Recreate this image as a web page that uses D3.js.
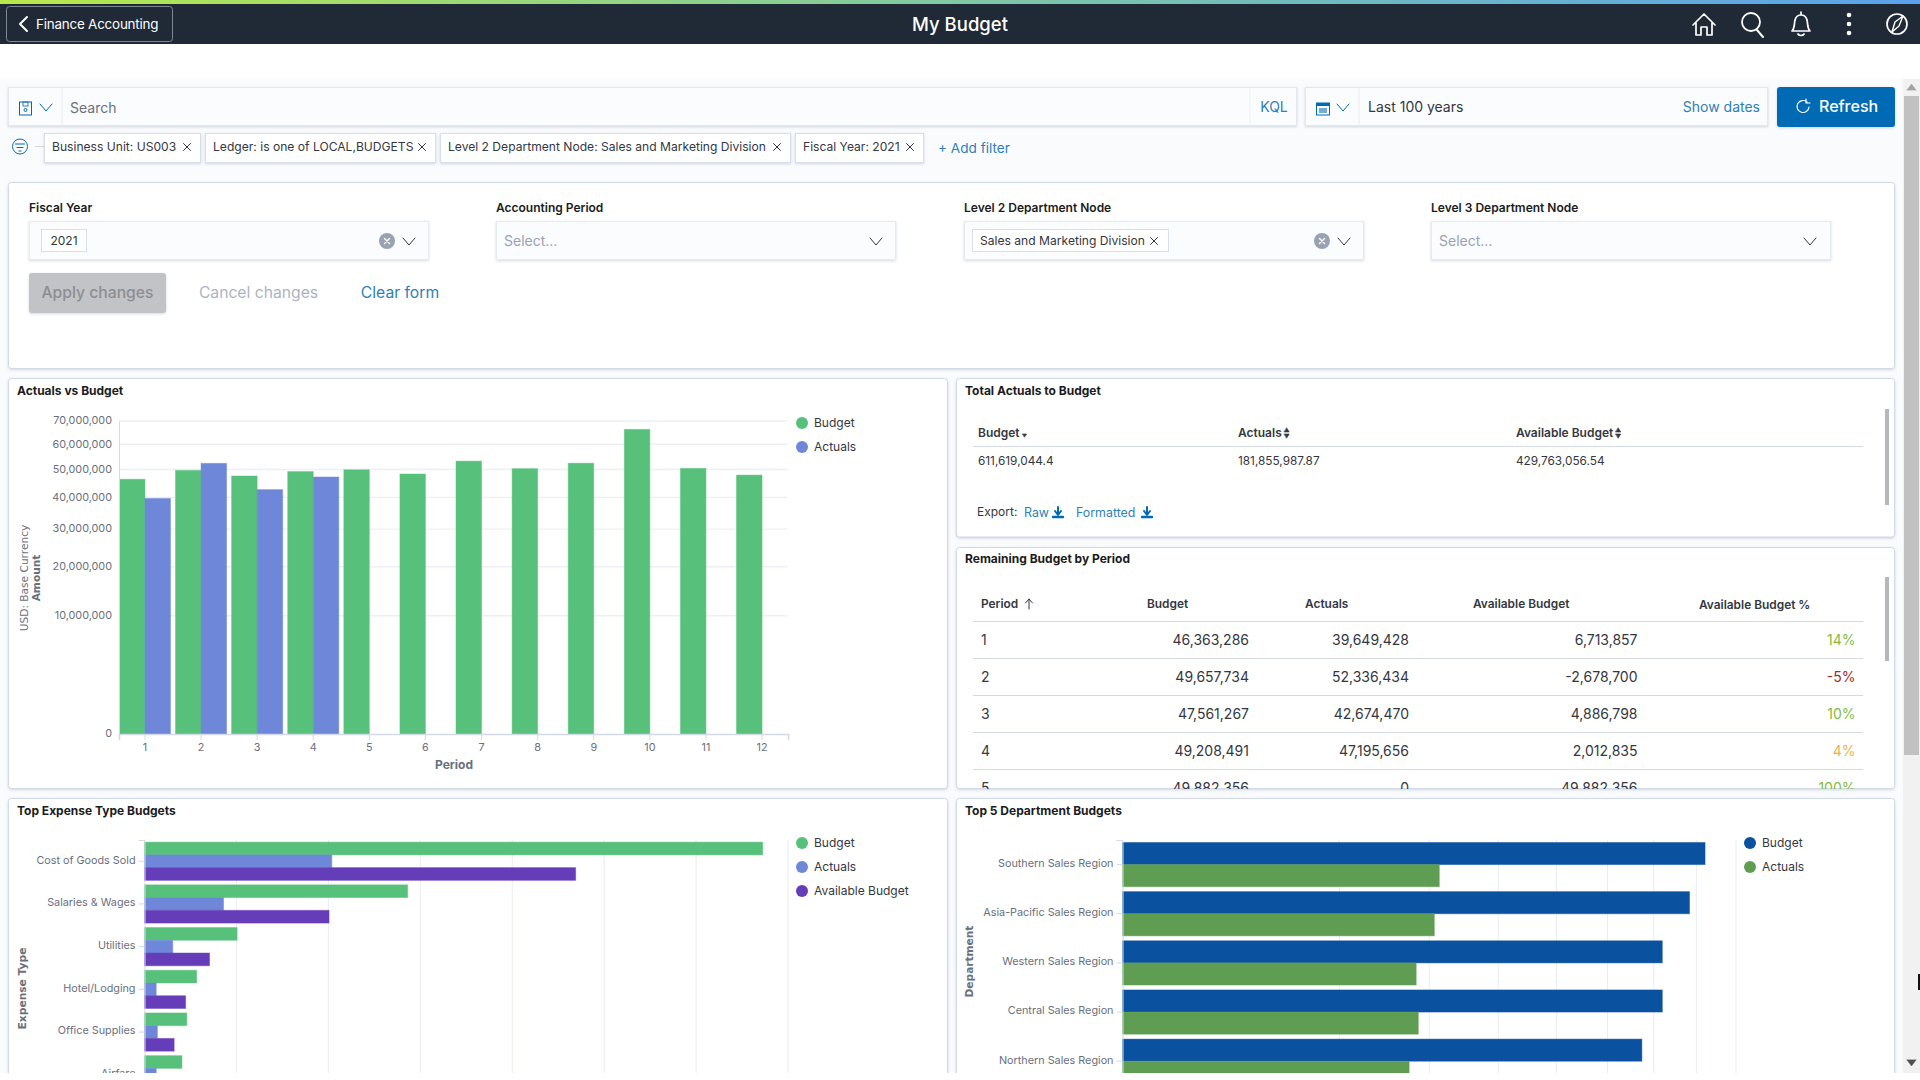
<!DOCTYPE html>
<html><head><meta charset="utf-8">
<script src="https://cdn.jsdelivr.net/npm/d3@7"></script>
<style>
html,body{margin:0;padding:0;background:#fff;overflow:hidden}
svg{display:block;font-family:Inter,"Noto Sans",sans-serif}
text{dominant-baseline:central}
.axis text{font-family:Inter,sans-serif;font-size:10.8px;fill:#69707d}
.axis path,.axis line{stroke:#d3dae6}
</style></head><body><div id="app"></div>
<script>
// ---------- data ----------
const periods = ["1","2","3","4","5","6","7","8","9","10","11","12"];
const budgetByPeriod = [46363286,49657734,47561267,49208491,49882356,48300000,53200000,50300000,52400000,66300000,50400000,47900000];
const actualsByPeriod = [39649428,52336434,42674470,47195656,0,0,0,0,0,0,0,0];
const amountTicks = [0,10000000,20000000,30000000,40000000,50000000,60000000,70000000];

const totalHeaders = ["Budget","Actuals","Available Budget"];
const totalValues = ["611,619,044.4","181,855,987.87","429,763,056.54"];

const remainingHeaders = ["Period","Budget","Actuals","Available Budget","Available Budget %"];
const remainingPeriods = ["1","2","3","4","5"];
const remainingBudget = [46363286,49657734,47561267,49208491,49882356];
const remainingActuals = [39649428,52336434,42674470,47195656,0];
const remainingAvailable = [6713857,-2678700,4886798,2012835,49882356];
const remainingPct = [14,-5,10,4,100];

const expenseTypes = ["Cost of Goods Sold","Salaries & Wages","Utilities","Hotel/Lodging","Office Supplies","Airfare"];
const expenseBudget = [269.0,114.5,40.3,22.7,18.4,16.3];
const expenseActuals = [81.5,34.4,12.3,5.1,5.6,5.1];
const expenseAvailable = [187.6,80.3,28.3,17.9,12.9,11.2];
const expenseTicks = [40,80,120,160,200,240,280];

const departments = ["Southern Sales Region","Asia-Pacific Sales Region","Western Sales Region","Central Sales Region","Northern Sales Region"];
const departmentBudget = [108.2,102.5,92.9,92.9,86.0];
const departmentActuals = [32.0,31.0,27.5,27.9,26.2];
const departmentTicks = [15,30,45,60,75,90,105,120];

const pills = ["Business Unit: US003","Ledger: is one of LOCAL,BUDGETS","Level 2 Department Node: Sales and Marketing Division","Fiscal Year: 2021"];
const formLabels = ["Fiscal Year","Accounting Period","Level 2 Department Node","Level 3 Department Node"];

// ---------- palette ----------
const GREEN="#57c17b",BLUE="#6f87d8",PURPLE="#663db8",NAVY="#0a51a0",LEAF="#5f9e52";
const INK="#1a1c21",GREY="#69707d",LINK="#006bb4",EDGE="#d3dae6";

const svg=d3.select("#app").append("svg").attr("width",1920).attr("height",1080);
const defs=svg.append("defs");
const grad=defs.append("linearGradient").attr("id","topbar");
[["0%","#b8e84a"],["50%","#7fc8a4"],["100%","#5aa2ec"]].forEach(s=>grad.append("stop").attr("offset",s[0]).attr("stop-color",s[1]));
function clip(id,x,y,w,h){defs.append("clipPath").attr("id",id).append("rect").attr("x",x).attr("y",y).attr("width",w).attr("height",h);}
clip("clipRemain",956,548,939,241);
clip("clipLower",0,790,1903,283);

function rect(p,x,y,w,h,fill,o={}){return p.append("rect").attr("x",x).attr("y",y).attr("width",w).attr("height",h).attr("fill",fill).attr("rx",o.r||0).attr("stroke",o.stroke||"none").attr("stroke-width",o.sw||1).style("filter",o.shadow?"drop-shadow(0 1px 1.5px rgba(60,80,120,.22))":null);}
function txt(p,s,x,y,o={}){return p.append("text").text(s).attr("x",x).attr("y",y-.7).attr("font-size",o.size||12).attr("font-weight",o.weight||400).attr("fill",o.fill||INK).attr("text-anchor",o.anchor||"start").attr("font-family",o.family||null).attr("letter-spacing",o.ls||null);}
function vtxt(p,s,x,y,o={}){return txt(p,s,0,0,Object.assign({anchor:"middle",family:"'DejaVu Sans',sans-serif"},o)).attr("transform",`translate(${x},${y}) rotate(-90)`);}
function path(p,d,stroke,sw,fill){return p.append("path").attr("d",d).attr("stroke",stroke).attr("stroke-width",sw||1.3).attr("fill",fill||"none").attr("stroke-linecap","round").attr("stroke-linejoin","round");}
function chevron(p,x,y,c){path(p,`M${x-6},${y-3}L${x},${y+4}L${x+6},${y-3}`,c||"#343741",1);}
function cross(p,x,y,c){path(p,`M${x-3.5},${y-3.5}L${x+3.5},${y+3.5}M${x+3.5},${y-3.5}L${x-3.5},${y+3.5}`,c||"#343741",1);}

// ---------- page chrome ----------
rect(svg,0,79,1903,994,"#fafbfd");
rect(svg,0,4,1920,40,"#1f2a36");
rect(svg,0,0,1920,4,"url(#topbar)");
rect(svg,6.5,6.5,166,35,"none",{stroke:"#7f8894",r:3});
path(svg,"M27,17L20,24L27,31","#fff",2);
txt(svg,"Finance Accounting",36,25,{size:13.4,fill:"#fff"}).attr("letter-spacing",-.2);
txt(svg,"My Budget",960,24.5,{size:18.5,fill:"#fff",anchor:"middle",weight:500});
const ic=svg.append("g");
path(ic,"M1693,25L1704,14L1715,25M1696,23V35H1701V27H1707V35H1712V23","#fff",1.7);
path(ic,"M1757,30L1763,37","#fff",2);ic.append("circle").attr("cx",1751).attr("cy",22).attr("r",9).attr("fill","none").attr("stroke","#fff").attr("stroke-width",1.8);
path(ic,"M1792,31C1795,28 1794,24 1795,20C1796,16 1799,15 1801,15C1803,15 1806,16 1807,20C1808,24 1807,28 1810,31ZM1798,34C1799,36 1803,36 1804,34M1801,12V15","#fff",1.7);
[15,24,33].forEach(y=>ic.append("circle").attr("cx",1849).attr("cy",y).attr("r",2.3).attr("fill","#fff"));
ic.append("circle").attr("cx",1897).attr("cy",24).attr("r",10).attr("fill","none").attr("stroke","#fff").attr("stroke-width",1.7);
path(ic,"M1903,16L1899,26L1892,32L1895,22Z","#fff",1.4);

// scrollbar
rect(svg,1903,79,17,994,"#f1f1f1");
rect(svg,1904,96,15,659,"#c1c1c1");
path(svg,"M1907,90L1911.5,84L1916,90Z","#a3a3a3",.5,"#a3a3a3");
path(svg,"M1907,1060L1911.5,1066L1916,1060Z","#505050",.5,"#505050");
rect(svg,1918,974,2,16,"#111");

// search row
rect(svg,8.5,87.5,1288,38,"#fbfcfd",{stroke:"#e3e8f0",shadow:true});
svg.append("line").attr("x1",62).attr("x2",62).attr("y1",88).attr("y2",125).attr("stroke","#e9edf3");
svg.append("line").attr("x1",1250).attr("x2",1250).attr("y1",88).attr("y2",125).attr("stroke","#eef1f5");
rect(svg,19.5,102,12,13,"none",{stroke:LINK});
rect(svg,23,102,5,4,"none",{stroke:LINK,sw:.8});
svg.append("circle").attr("cx",25.5).attr("cy",110).attr("r",1.5).attr("fill","none").attr("stroke",LINK);
chevron(svg,46,107,LINK);
txt(svg,"Search",70,108,{size:14,fill:GREY});
txt(svg,"KQL",1274,107.5,{size:14,fill:"#2f7fb8",anchor:"middle"});
rect(svg,1305.5,87.5,462,38,"#fbfcfd",{stroke:"#e3e8f0",shadow:true});
svg.append("line").attr("x1",1359).attr("x2",1359).attr("y1",88).attr("y2",125).attr("stroke","#e9edf3");
rect(svg,1316.5,103,13,12,"none",{stroke:LINK});
rect(svg,1316.5,103,13,3,LINK);
rect(svg,1319,108,8,5,LINK).attr("opacity",.55);
chevron(svg,1343,107,LINK);
txt(svg,"Last 100 years",1368,107.5,{size:14,fill:"#343741"});
txt(svg,"Show dates",1760,107.5,{size:14,fill:"#2f7fb8",anchor:"end"});
rect(svg,1777,87,118,40,LINK,{r:3,shadow:true});
path(svg,"M1807,102A6,6 0 1 0 1809,107M1806,99V103H1810","#fff",1.2);
txt(svg,"Refresh",1819,106.5,{size:16,fill:"#fff",weight:500});

// filter row
svg.append("circle").attr("cx",20).attr("cy",146.5).attr("r",7.5).attr("fill","none").attr("stroke",LINK);
path(svg,"M15.5,144H24.5M17,147.5H23M19,151H21",LINK,1);
svg.append("line").attr("x1",35).attr("x2",44).attr("y1",146.5).attr("y2",146.5).attr("stroke","#d3dae6");
const pillBoxes=[[44,156,187],[205,230,422],[440,350,777],[795,128,910]];
pills.forEach((s,i)=>{const b=pillBoxes[i];
  rect(svg,b[0]+.5,133.5,b[1],29,"#fff",{stroke:"#d8deea",shadow:true});
  txt(svg,s,b[0]+8,147.5,{size:12.1,fill:"#343741"});
  cross(svg,b[2],147,"#343741");});
txt(svg,"+ Add filter",938,148.5,{size:13.6,fill:"#2f7fb8"});

// form panel
rect(svg,8.5,182.5,1886,186,"#fff",{stroke:EDGE,r:3,shadow:true});
const formX=[29,496,964,1431];
formLabels.forEach((s,i)=>{
  txt(svg,s,formX[i],208,{size:12,weight:600});
  rect(svg,formX[i]+.5,221.5,399,38,"#fbfcfd",{stroke:"#e6eaf1",shadow:true});
});
rect(svg,41.5,229.5,45,22,"#fff",{stroke:"#d8deea"});
txt(svg,"2021",64,241,{size:12,anchor:"middle",fill:"#343741"});
[387,1322].forEach(x=>{svg.append("circle").attr("cx",x).attr("cy",241).attr("r",8).attr("fill","#98a2b3");path(svg,`M${x-2.5},238.5L${x+2.5},243.5M${x+2.5},238.5L${x-2.5},243.5`,"#fff",1.4);});
[[409,241],[876,241],[1344,241],[1810,241]].forEach(c=>chevron(svg,c[0],c[1]));
txt(svg,"Select...",504,241,{size:14,fill:"#98a2b3"});
txt(svg,"Select...",1439,241,{size:14,fill:"#98a2b3"});
rect(svg,972.5,229.5,196,22,"#fff",{stroke:"#d8deea"});
txt(svg,"Sales and Marketing Division",980,241,{size:12.1,fill:"#343741"});
cross(svg,1154,241);
rect(svg,29,273,137,40,"#c2c3c6",{r:3,shadow:true});
txt(svg,"Apply changes",97.5,293,{size:15.7,fill:"#8d8e92",anchor:"middle",weight:500});
txt(svg,"Cancel changes",258.5,293,{size:15.7,fill:"#abb4c4",anchor:"middle"});
txt(svg,"Clear form",400,293,{size:15.7,fill:"#2f7fb8",anchor:"middle"});

// panels
const lower=svg.append("g").attr("clip-path","url(#clipLower)");
[[svg,8.5,378.5,939,410],[svg,956.5,378.5,938,158.5],[svg,956.5,547.5,938,241],[lower,8.5,798.5,939,330],[lower,956.5,798.5,938,330]].forEach(a=>rect(a[0],a[1],a[2],a[3],a[4],"#fff",{stroke:EDGE,r:3,shadow:true}));
txt(svg,"Actuals vs Budget",17,391,{weight:700});
txt(svg,"Total Actuals to Budget",965,391,{weight:700});
txt(svg,"Remaining Budget by Period",965,559,{weight:700});
txt(lower,"Top Expense Type Budgets",17,811,{weight:700});
txt(lower,"Top 5 Department Budgets",965,811,{weight:700});

function legend(p,items,x,y){items.forEach((it,i)=>{p.append("circle").attr("cx",x).attr("cy",y+i*24).attr("r",6).attr("fill",it[1]);txt(p,it[0],x+12,y+i*24,{size:12,fill:"#343741"});});}
function styleBar(sel,color){return sel.attr("fill",color).attr("stroke",color).attr("stroke-opacity",.45);}

// ---------- Actuals vs Budget ----------
{
  const g=svg.append("g");
  const x=d3.scaleBand().domain(periods).range([119,788]).paddingInner(.09).paddingOuter(.0075);
  const inner=d3.scaleBand().domain(["b","a"]).range([0,x.bandwidth()]);
  const y=d3.scaleSqrt().domain([0,70000000]).range([734,421]);
  g.selectAll(".g").data(amountTicks.slice(1)).join("line").attr("x1",119).attr("x2",787.5).attr("y1",d=>y(d)).attr("y2",d=>y(d)).attr("stroke","#eceff3").attr("stroke-width",1.4);
  styleBar(g.selectAll(".b").data(budgetByPeriod).join("rect").attr("x",(d,i)=>x(periods[i])+inner("b")).attr("width",inner.bandwidth()).attr("y",d=>y(d)).attr("height",d=>y(0)-y(d)),GREEN);
  styleBar(g.selectAll(".a").data(actualsByPeriod).join("rect").attr("x",(d,i)=>x(periods[i])+inner("a")).attr("width",inner.bandwidth()).attr("y",d=>y(d)).attr("height",d=>y(0)-y(d)),BLUE);
  const ax=g.append("g").attr("class","axis").attr("transform","translate(0,734)").call(d3.axisBottom(x).tickSize(6).tickPadding(5));
  ax.select("path").attr("stroke-width",1.6);
  const ay=g.append("g").attr("class","axis").attr("transform","translate(119,0)").call(d3.axisLeft(y).tickValues(amountTicks).tickFormat(d3.format(",")).tickSize(0).tickPadding(7));
  ay.select("path").attr("stroke","#e6e9ef");
  ay.selectAll("text").attr("dy",null).attr("y",-.7);
  ax.selectAll("text").attr("dy",null).attr("y",13.5);
  txt(g,"Period",454,765,{weight:700,fill:GREY,anchor:"middle"});
  vtxt(g,"USD: Base Currency",25,578,{size:10.6,fill:GREY});
  vtxt(g,"Amount",37,578,{size:10.6,fill:GREY,weight:700});
  legend(g,[["Budget",GREEN],["Actuals",BLUE]],802,423);
}

// ---------- Total table ----------
{
  const xs=[978,1238,1516];
  totalHeaders.forEach((h,i)=>{const t=txt(svg,h,xs[i],433,{weight:600,fill:"#343741"});
    const w=t.node().getComputedTextLength(),cx=xs[i]+w+5;
    if(i==0) path(svg,`M${cx-2},434L${cx+2},434L${cx},437Z`,"#343741",.6,"#343741");
    else path(svg,`M${cx-2.5},432L${cx+2.5},432L${cx},428ZM${cx-2.5},434L${cx+2.5},434L${cx},438Z`,"#343741",.6,"#343741");
    txt(svg,totalValues[i],xs[i],461.5,{size:11.8,fill:"#343741"});});
  svg.append("line").attr("x1",973).attr("x2",1863).attr("y1",446.5).attr("y2",446.5).attr("stroke",EDGE);
  rect(svg,1885,409,4,96,"#b5b7ba");
  txt(svg,"Export:",977,512.5,{size:12,fill:"#343741"});
  txt(svg,"Raw",1024,513.5,{size:12.4,fill:"#2f7fb8"});
  txt(svg,"Formatted",1076,513.5,{size:12.4,fill:"#2f7fb8"});
  [1058,1147].forEach(x=>{path(svg,`M${x},507V514M${x-3},511L${x},515L${x+3},511`,LINK,2);path(svg,`M${x-5},517H${x+5}`,LINK,2.4);});
}

// ---------- Remaining table ----------
{
  const g=svg.append("g").attr("clip-path","url(#clipRemain)");
  const hx=[981,1147,1305,1473,1699];
  remainingHeaders.forEach((h,i)=>txt(g,h,hx[i],i==4?605:604,{size:11.9,weight:600,fill:"#343741"}));
  path(g,"M1029,609V599M1025.5,603L1029,599L1032.5,603","#343741",1);
  const rows=d3.scaleLinear().domain([0,1]).range([640,677]);
  const pctColor=p=>p<0?"#a32b2b":p<5?"#e6b24f":"#82bd3c";
  const f=v=>d3.format(",")(v).replace("\u2212","-");
  remainingPeriods.forEach((p,i)=>{const y=rows(i);
    g.append("line").attr("x1",973).attr("x2",1863).attr("y1",y-18.5).attr("y2",y-18.5).attr("stroke",EDGE);
    txt(g,p,981,y,{size:14,fill:"#343741"});
    txt(g,f(remainingBudget[i]),1249,y,{size:14,fill:"#343741",anchor:"end"});
    txt(g,f(remainingActuals[i]),1409,y,{size:14,fill:"#343741",anchor:"end"});
    txt(g,f(remainingAvailable[i]),1637.5,y,{size:14,fill:"#343741",anchor:"end"});
    txt(g,remainingPct[i]+"%",1855.5,y,{size:14,fill:pctColor(remainingPct[i]),anchor:"end"});
  });
  rect(svg,1885,577,4,84,"#b5b7ba");
}

// ---------- Top Expense Type Budgets ----------
{
  const g=lower.append("g");
  const y=d3.scaleBand().domain(expenseTypes).range([840,1096]).paddingInner(.105).paddingOuter(.05);
  const inner=d3.scaleBand().domain(["b","a","v"]).range([0,y.bandwidth()]);
  const x=d3.scaleLinear().domain([0,280]).range([144.5,788]);
  g.selectAll(".g").data(expenseTicks).join("line").attr("x1",d=>x(d)).attr("x2",d=>x(d)).attr("y1",840).attr("y2",1073).attr("stroke","#e9ecf1");
  [[expenseBudget,"b",GREEN],[expenseActuals,"a",BLUE],[expenseAvailable,"v",PURPLE]].forEach(s=>{
    styleBar(g.selectAll(".x"+s[1]).data(s[0]).join("rect").attr("x",x(0)).attr("width",d=>x(d)-x(0)).attr("y",(d,i)=>y(expenseTypes[i])+inner(s[1])).attr("height",inner.bandwidth()),s[2]);
  });
  const ay=g.append("g").attr("class","axis").attr("transform","translate(144.5,0)").call(d3.axisLeft(y).tickSize(6).tickPadding(3));
  ay.selectAll("text").attr("dy",null).attr("y",-1.2);
  vtxt(g,"Expense Type",23,988.5,{size:10.7,fill:GREY,weight:700});
  legend(g,[["Budget",GREEN],["Actuals",BLUE],["Available Budget",PURPLE]],802,843);
}

// ---------- Top 5 Department Budgets ----------
{
  const g=lower.append("g");
  const y=d3.scaleBand().domain(departments).range([840,1085.8]).paddingInner(.1).paddingOuter(.05);
  const inner=d3.scaleBand().domain(["b","a"]).range([0,y.bandwidth()]);
  const x=d3.scaleSqrt().domain([0,120]).range([1122.5,1736]);
  g.selectAll(".g").data(departmentTicks).join("line").attr("x1",d=>x(d)).attr("x2",d=>x(d)).attr("y1",840).attr("y2",1073).attr("stroke","#e9ecf1");
  [[departmentBudget,"b",NAVY],[departmentActuals,"a",LEAF]].forEach(s=>{
    styleBar(g.selectAll(".x"+s[1]).data(s[0]).join("rect").attr("x",x(0)).attr("width",d=>x(d)-x(0)).attr("y",(d,i)=>y(departments[i])+inner(s[1])).attr("height",inner.bandwidth()),s[2]);
  });
  const ay=g.append("g").attr("class","axis").attr("transform","translate(1122.5,0)").call(d3.axisLeft(y).tickSize(6).tickPadding(3));
  ay.selectAll("text").attr("dy",null).attr("y",-1.2);
  vtxt(g,"Department",970,961.5,{size:10.6,fill:GREY,weight:700});
  legend(g,[["Budget",NAVY],["Actuals",LEAF]],1750,843);
}
</script></body></html>
